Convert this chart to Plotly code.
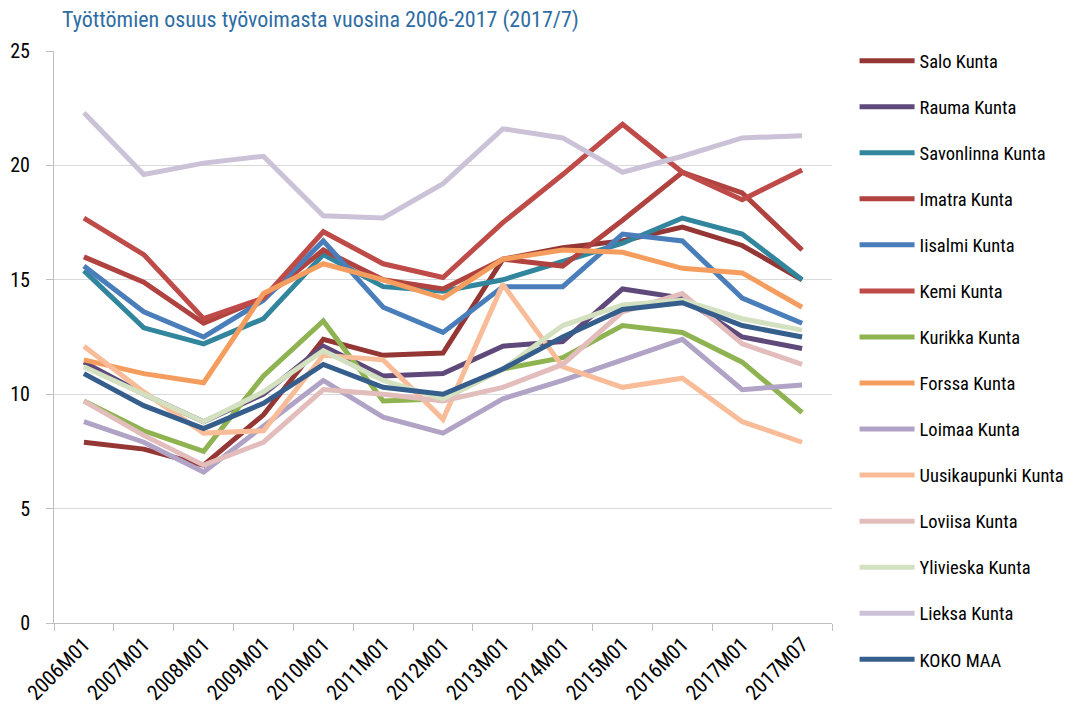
import plotly.graph_objects as go

categories = ["2006M01", "2007M01", "2008M01", "2009M01", "2010M01", "2011M01",
              "2012M01", "2013M01", "2014M01", "2015M01", "2016M01", "2017M01", "2017M07"]

salo = [7.9, 7.6, 6.9, 9.1, 12.4, 11.7, 11.8, 15.9, 16.4, 16.7, 17.3, 16.5, 15.0]
rauma = [11.4, 10.0, 8.8, 10.0, 12.1, 10.8, 10.9, 12.1, 12.3, 14.6, 14.2, 12.5, 12.0]
savonlinna = [15.4, 12.9, 12.2, 13.3, 16.1, 14.7, 14.5, 15.0, 15.8, 16.6, 17.7, 17.0, 15.0]
imatra = [16.0, 14.9, 13.1, 14.2, 16.3, 15.0, 14.6, 15.9, 15.6, 17.6, 19.7, 18.8, 16.3]
iisalmi = [15.6, 13.6, 12.5, 14.1, 16.7, 13.8, 12.7, 14.7, 14.7, 17.0, 16.7, 14.2, 13.1]
kemi = [17.7, 16.1, 13.3, 14.2, 17.1, 15.7, 15.1, 17.5, 19.6, 21.8, 19.7, 18.5, 19.8]
kurikka = [9.7, 8.4, 7.5, 10.8, 13.2, 9.7, 9.8, 11.1, 11.6, 13.0, 12.7, 11.4, 9.2]
forssa = [11.5, 10.9, 10.5, 14.4, 15.7, 15.0, 14.2, 15.9, 16.3, 16.2, 15.5, 15.3, 13.8]
loimaa = [8.8, 7.9, 6.6, 8.6, 10.6, 9.0, 8.3, 9.8, 10.6, 11.5, 12.4, 10.2, 10.4]
uusikaupunki = [12.1, 10.1, 8.3, 8.4, 11.7, 11.5, 8.9, 14.8, 11.2, 10.3, 10.7, 8.8, 7.9]
loviisa = [9.7, 8.2, 6.9, 7.9, 10.2, 10.0, 9.7, 10.3, 11.3, 13.6, 14.4, 12.2, 11.3]
ylivieska = [11.2, 10.0, 8.8, 10.1, 11.9, 10.6, 9.8, 11.1, 13.0, 13.9, 14.1, 13.3, 12.8]
lieksa = [22.3, 19.6, 20.1, 20.4, 17.8, 17.7, 19.2, 21.6, 21.2, 19.7, 20.4, 21.2, 21.3]
koko_maa = [10.9, 9.5, 8.5, 9.6, 11.3, 10.3, 10.0, 11.1, 12.5, 13.7, 14.0, 13.0, 12.5]

series_names = ["Salo Kunta", "Rauma Kunta", "Savonlinna Kunta", "Imatra Kunta", "Iisalmi Kunta",
                "Kemi Kunta", "Kurikka Kunta", "Forssa Kunta", "Loimaa Kunta", "Uusikaupunki Kunta",
                "Loviisa Kunta", "Ylivieska Kunta", "Lieksa Kunta", "KOKO MAA"]
series_values = [salo, rauma, savonlinna, imatra, iisalmi, kemi, kurikka, forssa, loimaa,
                 uusikaupunki, loviisa, ylivieska, lieksa, koko_maa]
series_colors = ["#943634", "#5F497A", "#31859C", "#B0433F", "#4A7EBB", "#BE4B48", "#8FB350",
                 "#F59D5E", "#B0A3C6", "#F8BD98", "#E3BDBC", "#D3E1C1", "#CBC2D8", "#355E8C"]

y_ticks = [0, 5, 10, 15, 20, 25]

FONT = "Roboto Condensed, Liberation Sans Narrow, sans-serif"

fig = go.Figure()
for name, vals, col in zip(series_names, series_values, series_colors):
    fig.add_trace(go.Scatter(
        x=categories, y=vals, name=name, mode="lines",
        line=dict(color=col, width=5), legendgroup=name,
    ))

fig.update_layout(
    width=1076, height=727,
    margin=dict(l=54, r=244, t=51, b=104, autoexpand=False),
    paper_bgcolor="white", plot_bgcolor="white",
    font=dict(family=FONT, size=18, color="#000000"),
    title=dict(text="Työttömien osuus työvoimasta vuosina 2006-2017 (2017/7)",
               x=62 / 1076, xanchor="left", y=1 - 19 / 727, yanchor="middle",
               font=dict(family=FONT, size=22, color="#2E6DA4")),
    legend=dict(x=1.029, y=1.0155, xanchor="left", yanchor="top",
                font=dict(family=FONT, size=18.5, color="#000000"),
                tracegroupgap=19, itemwidth=55, bgcolor="rgba(0,0,0,0)",
                maxheight=720),
    showlegend=True,
)
fig.update_xaxes(
    type="category", range=[-0.5, 12.5], tickson="boundaries", automargin=False,
    ticks="outside", ticklen=7, tickcolor="#BFBFBF", tickwidth=1,
    showline=True, linecolor="#BFBFBF", linewidth=1,
    showgrid=False, tickangle=-45,
    tickfont=dict(family=FONT, size=21, color="#000000"),
)
fig.update_yaxes(
    range=[0, 25], tickvals=y_ticks, ticks="outside", ticklen=7, automargin=False,
    tickcolor="#BFBFBF", showline=True, linecolor="#BFBFBF", linewidth=1,
    showgrid=True, gridcolor="#D9D9D9", gridwidth=1, zeroline=False,
    ticklabelstandoff=12,
    tickfont=dict(family=FONT, size=20, color="#000000"),
)

fig.write_html("out.html", config={"displayModeBar": False})

# remove the default page margin so the figure sits at the window's top-left corner
with open("out.html", "r", encoding="utf-8") as fh:
    html = fh.read()
html = html.replace("<body>", '<body style="margin:0;padding:0;">', 1)
with open("out.html", "w", encoding="utf-8") as fh:
    fh.write(html)
